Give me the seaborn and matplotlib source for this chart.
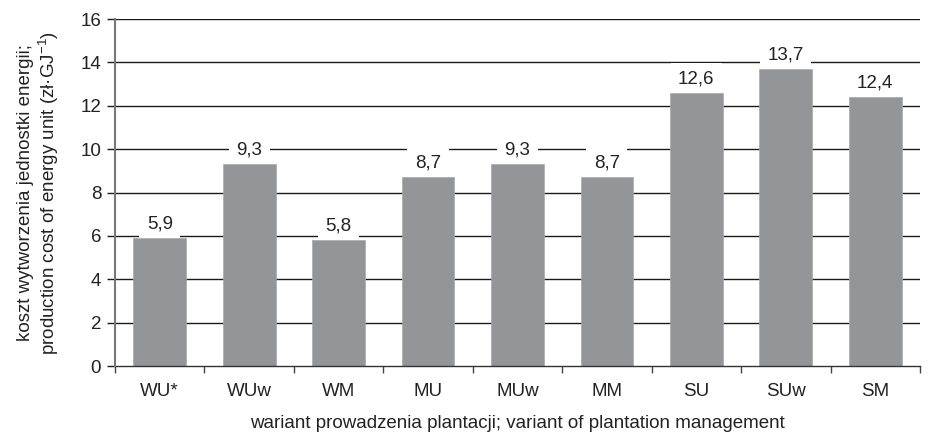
import matplotlib
matplotlib.use("Agg")
import matplotlib.pyplot as plt
import seaborn as sns
import pandas as pd
import numpy as np

variants = ["WU*", "WUw", "WM", "MU", "MUw", "MM", "SU", "SUw", "SM"]
cost = [5.9, 9.3, 5.8, 8.7, 9.3, 8.7, 12.6, 13.7, 12.4]
y_ticks = [0, 2, 4, 6, 8, 10, 12, 14, 16]

sns.set_style("white")
plt.rcParams["font.family"] = ["Liberation Sans", "DejaVu Sans"]

FS = 13.5
TXT = "#222222"

df = pd.DataFrame({"variant": variants, "cost": cost})

fig = plt.figure(figsize=(9.33, 4.33), dpi=100)
ax = fig.add_axes([0.1233, 0.1547, 0.8627, 0.8013])

# horizontal grid drawn below the bars
for t in y_ticks[1:]:
    ax.axhline(t, color="#1a1a1a", lw=1.0, zorder=0)

sns.barplot(data=df, x="variant", y="cost", color="#939598", width=0.59,
            saturation=1, ax=ax, zorder=2, edgecolor="#a8a9ab", linewidth=0.5)

ax.set_ylim(0, 16)
ax.set_xlim(-0.5, len(variants) - 0.5)
ax.set_yticks(y_ticks)
ax.set_yticklabels([str(t) for t in y_ticks], fontsize=FS, color=TXT)
ax.tick_params(axis="y", length=6, width=1.0, color="#1a1a1a", pad=4, left=True)

# category labels at bar centres, tick marks between categories
ax.set_xticks(range(len(variants)))
ax.set_xticklabels(variants, fontsize=FS, color=TXT)
ax.tick_params(axis="x", which="major", length=0, pad=12)
ax.set_xticks(np.arange(-0.5, len(variants), 1.0), minor=True)
ax.tick_params(axis="x", which="minor", length=5, width=1.0, color="#444444", bottom=True)

for s in ["top", "right"]:
    ax.spines[s].set_visible(False)
ax.spines["left"].set_color("#777777")
ax.spines["left"].set_linewidth(1.5)
ax.spines["bottom"].set_color("#333333")
ax.spines["bottom"].set_linewidth(1.0)
ax.spines["left"].set_zorder(3)

# value labels above bars, masking the grid behind them (kept behind the bars)
for i, v in enumerate(cost):
    ax.annotate(f"{v:.1f}".replace(".", ","), (i, v), xytext=(0, 4),
                textcoords="offset points", ha="center", va="bottom",
                fontsize=FS, color=TXT, zorder=1,
                bbox=dict(boxstyle="square,pad=0.4", fc="white", ec="none"))

ax.set_xlabel("wariant prowadzenia plantacji; variant of plantation management",
              fontsize=FS, color=TXT, labelpad=11)
ax.set_ylabel("koszt wytworzenia jednostki energii;\n"
              "production cost of energy unit (zł·GJ$^{\\mathregular{-1}}$)",
              fontsize=FS, color=TXT, labelpad=14, linespacing=1.1)

fig.savefig("out.png", dpi=100)
